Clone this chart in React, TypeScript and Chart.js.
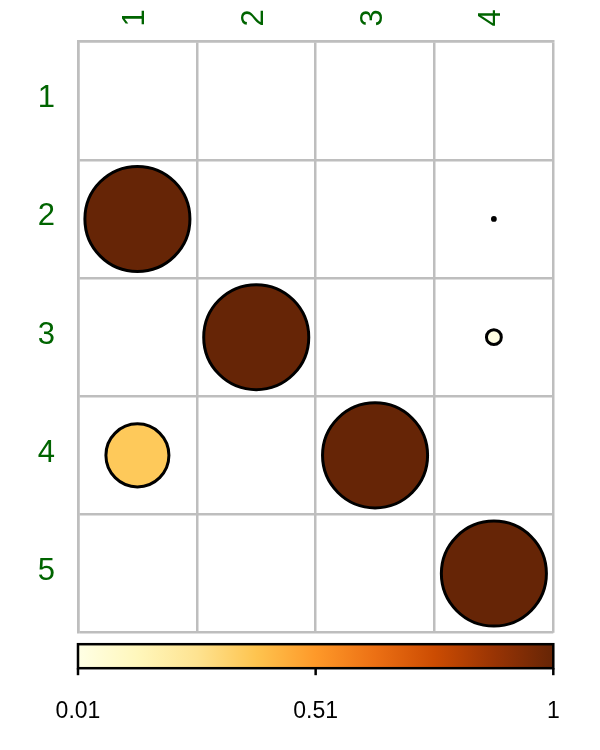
import React, { useEffect, useRef } from "react";
import { Chart, registerables } from "chart.js";

Chart.register(...registerables);

// Data
const columnLabels = ["1", "2", "3", "4"];
const rowLabels = ["1", "2", "3", "4", "5"];
const row1 = [0, 0, 0, 0];
const row2 = [1, 0, 0, 0.0007];
const row3 = [0, 1, 0, 0.02];
const row4 = [0.36, 0, 1, 0];
const row5 = [0, 0, 0, 1];
const rowValues = [row1, row2, row3, row4, row5];
const colorbarMin = 0.01;
const colorbarMax = 1;
const colorbarTickValues = [0.01, 0.505, 1];
const colorbarTickLabels = ["0.01", "0.51", "1"];

// YlOrBr palette
const palette = [
  "#FFFFE5",
  "#FFF7BC",
  "#FEE391",
  "#FEC44F",
  "#FE9929",
  "#EC7014",
  "#CC4C02",
  "#993404",
  "#662506",
];

function hexToRgb(h: string) {
  const n = parseInt(h.slice(1), 16);
  return [(n >> 16) & 255, (n >> 8) & 255, n & 255];
}

function colorFor(v: number) {
  let t = (v - colorbarMin) / (colorbarMax - colorbarMin);
  t = Math.max(0, Math.min(1, t));
  const pos = t * (palette.length - 1);
  const i = Math.min(palette.length - 2, Math.floor(pos));
  const f = pos - i;
  const a = hexToRgb(palette[i]);
  const b = hexToRgb(palette[i + 1]);
  const c = a.map((x, k) => Math.round(x + (b[k] - x) * f));
  return `rgb(${c[0]},${c[1]},${c[2]})`;
}

const FONT = "'Liberation Sans', Arial, Helvetica, sans-serif";
const LABEL_SIZE = 31;

const colorbarPlugin = {
  id: "colorbar",
  afterDraw(chart: any) {
    const { ctx, chartArea } = chart;
    const x0 = chartArea.left;
    const x1 = chartArea.right;
    const top = chartArea.bottom + 11.5;
    const h = 24;
    ctx.save();
    const grad = ctx.createLinearGradient(x0, 0, x1, 0);
    palette.forEach((c, i) => grad.addColorStop(i / (palette.length - 1), c));
    ctx.fillStyle = grad;
    ctx.fillRect(x0, top, x1 - x0, h);
    ctx.strokeStyle = "#000";
    ctx.lineWidth = 2.5;
    ctx.strokeRect(x0, top, x1 - x0, h);
    ctx.font = `23px ${FONT}`;
    ctx.fillStyle = "#000";
    ctx.textAlign = "center";
    ctx.textBaseline = "middle";
    colorbarTickValues.forEach((v, i) => {
      const px = x0 + ((v - colorbarMin) / (colorbarMax - colorbarMin)) * (x1 - x0);
      ctx.beginPath();
      ctx.moveTo(px, top + h);
      ctx.lineTo(px, top + h + 7);
      ctx.stroke();
      ctx.fillText(colorbarTickLabels[i], px, top + h + 43);
    });
    ctx.restore();
  },
};

function radiusFor(c: any) {
  const raw = c.raw;
  if (!raw) return 0;
  const xs = c.chart.scales.x;
  const cell = xs.width / columnLabels.length;
  return Math.sqrt(raw.v) * 0.442 * cell;
}

export default function App() {
  const ref = useRef<HTMLCanvasElement | null>(null);

  useEffect(() => {
    if (!ref.current) return;
    const points: { x: string; y: string; v: number }[] = [];
    rowValues.forEach((row, ri) => {
      row.forEach((v, ci) => {
        if (v > 0) points.push({ x: columnLabels[ci], y: rowLabels[ri], v });
      });
    });

    const chart = new Chart(ref.current, {
      type: "scatter",
      data: {
        datasets: [
          {
            data: points as any,
            pointRadius: radiusFor,
            pointHoverRadius: radiusFor,
            backgroundColor: (c: any) => (c.raw ? colorFor(c.raw.v) : "#fff"),
            borderColor: "#000",
            borderWidth: 3,
            pointBorderWidth: 3,
          } as any,
        ],
      },
      options: {
        responsive: false,
        animation: false,
        events: [],
        layout: { padding: { top: 0, left: 0, right: 46.7, bottom: 117.3 } },
        plugins: {
          legend: { display: false },
          tooltip: { enabled: false },
        },
        scales: {
          x: {
            type: "category",
            labels: columnLabels,
            position: "top",
            offset: true,
            grid: {
              offset: true,
              color: "#BEBEBE",
              lineWidth: 2.5,
              drawTicks: false,
            },
            border: { color: "#BEBEBE", width: 2.5 },
            ticks: {
              color: "#006400",
              font: { size: LABEL_SIZE, family: FONT },
              minRotation: 90,
              maxRotation: 90,
              padding: 15,
              labelOffset: LABEL_SIZE * 1.2 - 2,
            },
            afterFit: (s: any) => {
              s.height = 38.7;
            },
          },
          y: {
            type: "category",
            labels: rowLabels,
            offset: true,
            grid: {
              offset: true,
              color: "#BEBEBE",
              lineWidth: 2.5,
              drawTicks: false,
            },
            border: { color: "#BEBEBE", width: 2.5 },
            ticks: {
              color: "#006400",
              font: { size: LABEL_SIZE, family: FONT },
              padding: 23,
              labelOffset: -2,
            },
            afterFit: (s: any) => {
              s.width = 78;
            },
          },
        },
      },
      plugins: [colorbarPlugin],
    });
    return () => chart.destroy();
  }, []);

  return (
    <div style={{ position: "absolute", left: 0, top: 0, width: 600, height: 750 }}>
      <canvas ref={ref} width={600} height={750} style={{ width: 600, height: 750 }} />
    </div>
  );
}
